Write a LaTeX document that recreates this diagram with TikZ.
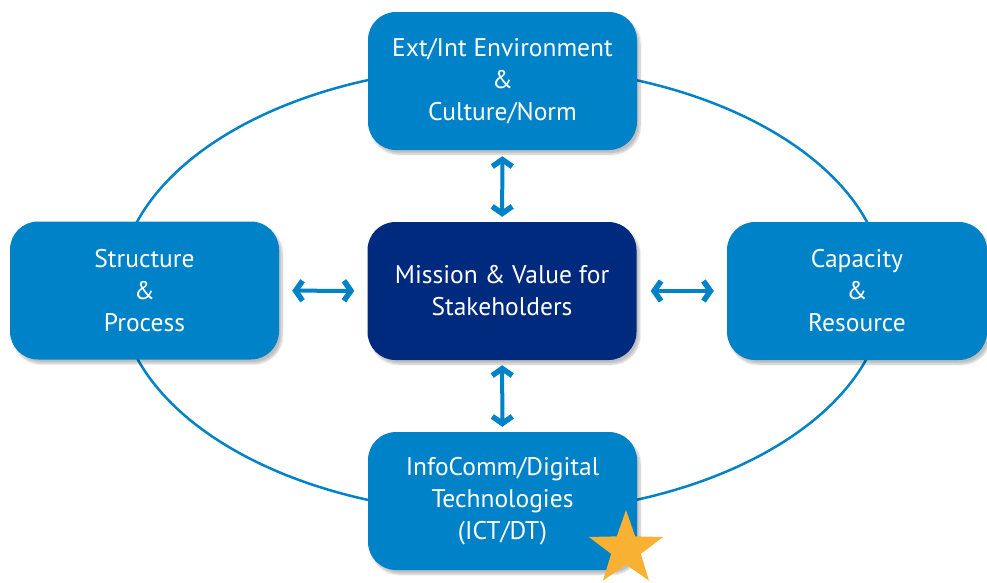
\documentclass[tikz,border=0pt]{standalone}
\usepackage{fontspec}
\setmainfont{PT Sans}
\usetikzlibrary{arrows.meta,shapes.geometric,shadows.blur}
\definecolor{midblue}{HTML}{0082C8}
\definecolor{navyblue}{HTML}{002A7E}
\definecolor{staryellow}{HTML}{F8B133}

\begin{document}
\begin{tikzpicture}[x=1pt,y=-1pt]
   \tikzstyle{style} = [rectangle, rounded corners=28pt, fill=midblue, text=white, minimum width=269pt, minimum height=138pt, inner sep=0pt, align=center, font=\fontsize{25.5}{32}\selectfont, blur shadow={shadow xshift=3pt, shadow yshift=-4pt, shadow opacity=25, shadow blur steps=8}]
   \tikzstyle{link} = [midblue, line width=4pt, {Straight Barb[length=7pt,width=20pt,line width=5.5pt]}-{Straight Barb[length=7pt,width=20pt,line width=5.5pt]}]

   \useasboundingbox (0,0) rectangle (987,582);
   \draw[midblue, line width=2.5pt] (502,290) ellipse [x radius=383pt, y radius=224pt];

      \draw
        (502.5, 81) node[style] (1){Ext/Int Environment\\\&\\Culture/Norm}
        (144.5, 290.5) node[style] (2){Structure\\\&\\Process}
        (502, 291) node[style, fill=navyblue] (0){Mission \& Value for\\Stakeholders}
        (857, 291) node[style, minimum width=260pt] (3){Capacity\\\&\\Resource}
        (502.5, 501) node[style] (4){InfoComm/Digital\\Technologies\\(ICT/DT)}
        (626, 549) node[star, star points=5, star point ratio=2.5, fill=staryellow, minimum size=78pt, inner sep=0pt] (5){};

  \begin{scope}[link]
    \draw[shorten <=6pt, shorten >=5pt] (1) to (0);
    \draw[shorten <=5pt, shorten >=5pt] (0) to (4);
    \draw[shorten <=13pt, shorten >=13pt] (2) to (0);
    \draw[shorten <=14pt, shorten >=13pt] (0) to (3);
  \end{scope}
\end{tikzpicture}
\end{document}
